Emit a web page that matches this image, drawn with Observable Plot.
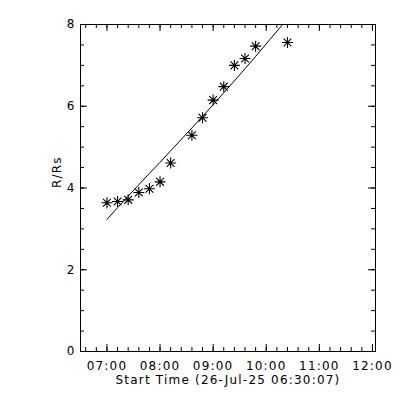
<!DOCTYPE html>
<html>
<head>
<meta charset="utf-8">
<script src="https://cdn.jsdelivr.net/npm/d3@7"></script>
<script src="https://cdn.jsdelivr.net/npm/@observablehq/plot@0.6"></script>
<style>
  html, body { margin: 0; padding: 0; background: #fff; }
  #chart { width: 400px; height: 400px; }
  svg text { font-family: "DejaVu Sans", sans-serif; letter-spacing: 1.2px; }
</style>
</head>
<body>
<div id="chart"></div>
<script>
// Observation times (UTC, 26-Jul-2025) and measured heights
const times = ["07:00", "07:12", "07:24", "07:36", "07:48", "08:00", "08:12", "08:36",
               "08:48", "09:00", "09:12", "09:24", "09:36", "09:48", "10:24"];
const heights = [3.64, 3.67, 3.71, 3.89, 3.98, 4.15, 4.61, 5.29,
                 5.72, 6.15, 6.48, 7.00, 7.17, 7.47, 7.56];
// Fitted height at the same times
const fitHeights = [3.23, 3.52, 3.80, 4.08, 4.36, 4.63, 4.91, 5.47,
                    5.75, 6.04, 6.33, 6.62, 6.92, 7.22, 8.14];
// Axis definitions
const xStart = "06:30:07";
const xEnd = "12:03:27";
const xTickLabels = ["07:00", "08:00", "09:00", "10:00", "11:00", "12:00"];
const yTickValues = [0, 2, 4, 6, 8];
const yLabel = "R/Rs";
const xLabel = "Start Time (26-Jul-25 06:30:07)";

const toDate = s => {
  const [h, m, sec] = s.split(":").map(Number);
  return new Date(Date.UTC(2025, 6, 26, h, m, sec || 0));
};

const points = times.map((t, i) => ({t: toDate(t), r: heights[i]}));
const fit = times.map((t, i) => ({t: toDate(t), r: fitHeights[i]}));

const xMajor = xTickLabels.map(toDate);
const xMinor = d3.utcMinute.every(12).range(toDate("06:36"), toDate("12:01"));
const yMinor = d3.range(0, 8.001, 0.5);

const W = 400, H = 400, mL = 80, mR = 25, mT = 24, mB = 49;
const innerW = W - mL - mR, innerH = H - mT - mB;
const majLen = 7, minLen = 4;

// asterisk (8 arms) symbol
const asterisk = {
  draw(ctx, size) {
    const r = Math.sqrt(size / Math.PI);
    const d = r * Math.SQRT1_2;
    ctx.moveTo(-r, 0); ctx.lineTo(r, 0);
    ctx.moveTo(0, -r); ctx.lineTo(0, r);
    ctx.moveTo(-d, -d); ctx.lineTo(d, d);
    ctx.moveTo(-d, d); ctx.lineTo(d, -d);
  }
};

const chart = Plot.plot({
  width: W, height: H,
  marginLeft: mL, marginRight: mR, marginTop: mT, marginBottom: mB,
  style: {fontSize: "12px", fontFamily: "DejaVu Sans, sans-serif", color: "#000", background: "#fff"},
  x: {type: "utc", domain: [toDate(xStart), toDate(xEnd)]},
  y: {domain: [0, 8]},
  marks: [
    Plot.frame({stroke: "#000", strokeWidth: 1}),
    // bottom/top x ticks
    Plot.ruleX(xMajor, {x: d => d, insetTop: innerH - majLen, stroke: "#000"}),
    Plot.ruleX(xMajor, {x: d => d, insetBottom: innerH - majLen, stroke: "#000"}),
    Plot.ruleX(xMinor, {x: d => d, insetTop: innerH - minLen, stroke: "#000"}),
    Plot.ruleX(xMinor, {x: d => d, insetBottom: innerH - minLen, stroke: "#000"}),
    // left/right y ticks
    Plot.ruleY(yTickValues, {y: d => d, insetRight: innerW - majLen, stroke: "#000"}),
    Plot.ruleY(yTickValues, {y: d => d, insetLeft: innerW - majLen, stroke: "#000"}),
    Plot.ruleY(yMinor, {y: d => d, insetRight: innerW - minLen, stroke: "#000"}),
    Plot.ruleY(yMinor, {y: d => d, insetLeft: innerW - minLen, stroke: "#000"}),
    Plot.axisX(xMajor, {tickSize: 0, tickPadding: 10, tickFormat: (d, i) => xTickLabels[i], label: null, fontSize: 12, fill: "#000"}),
    Plot.axisY(yTickValues, {tickSize: 0, tickPadding: 5, tickFormat: d => String(d), label: null, fontSize: 12, fill: "#000"}),
    Plot.text([yLabel], {text: d => d, frameAnchor: "left", dx: -23, rotate: -90, fontSize: 12, fill: "#000"}),
    Plot.text([xLabel], {text: d => d, frameAnchor: "bottom", dy: 32, fontSize: 12, fill: "#000"}),
    Plot.line(fit, {x: "t", y: "r", stroke: "#000", strokeWidth: 1, clip: true}),
    Plot.dot(points, {x: "t", y: "r", symbol: asterisk, r: 5.5, stroke: "#000", strokeWidth: 1.1, fill: "none"}),
    Plot.dot(points, {x: "t", y: "r", r: 1.2, fill: "#000", stroke: "none"})
  ]
});
document.getElementById("chart").appendChild(chart);
</script>
</body>
</html>
